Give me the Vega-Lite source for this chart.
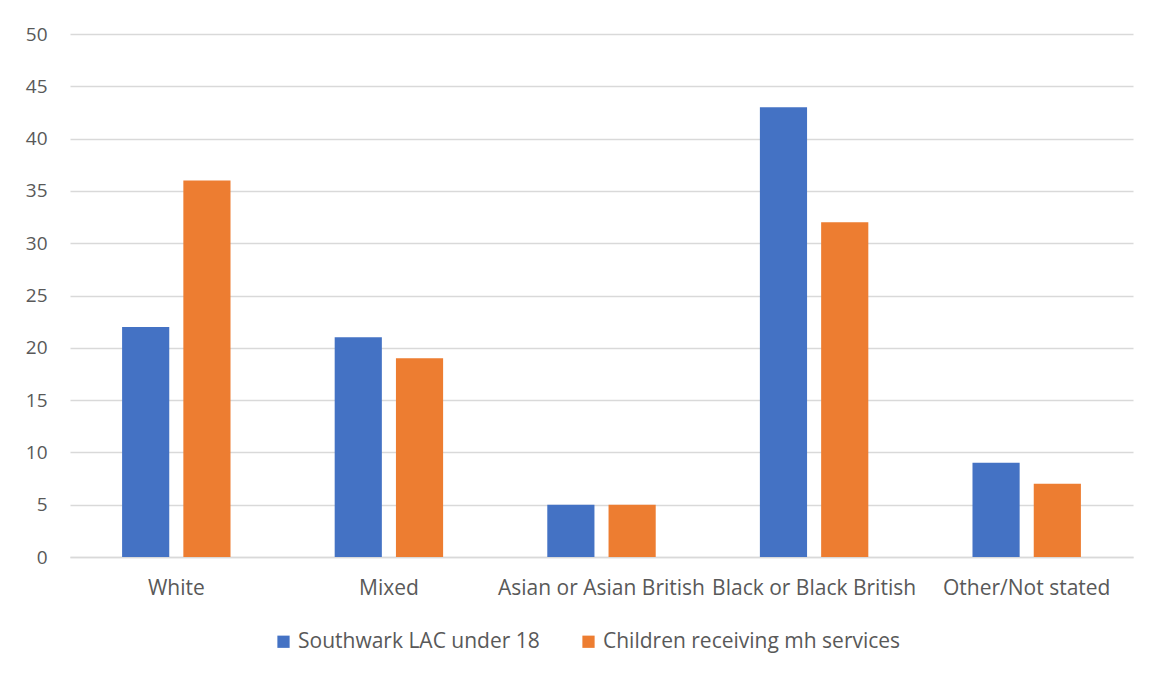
{
  "$schema": "https://vega.github.io/schema/vega-lite/v6.json",
  "autosize": {"type": "none"},
  "width": 1063,
  "height": 523,
  "padding": {"left": 70, "top": 34, "right": 21, "bottom": 118},
  "background": "white",
  "config": {
    "font": "Open Sans",
    "view": {"stroke": null},
    "axis": {"labelFont": "Open Sans", "labelColor": "#595959", "labelFontSize": 21, "ticks": false, "title": null, "labelOverlap": false}
  },
  "data": {"values": [
    {"cat": "White", "series": "Southwark LAC under 18", "v": 22},
    {"cat": "White", "series": "Children receiving mh services", "v": 36},
    {"cat": "Mixed", "series": "Southwark LAC under 18", "v": 21},
    {"cat": "Mixed", "series": "Children receiving mh services", "v": 19},
    {"cat": "Asian or Asian British", "series": "Southwark LAC under 18", "v": 5},
    {"cat": "Asian or Asian British", "series": "Children receiving mh services", "v": 5},
    {"cat": "Black or Black British", "series": "Southwark LAC under 18", "v": 43},
    {"cat": "Black or Black British", "series": "Children receiving mh services", "v": 32},
    {"cat": "Other/Not stated", "series": "Southwark LAC under 18", "v": 9},
    {"cat": "Other/Not stated", "series": "Children receiving mh services", "v": 7}
  ]},
  "mark": {"type": "bar"},
  "encoding": {
    "x": {
      "field": "cat", "type": "nominal", "sort": null,
      "scale": {"paddingInner": 0.49, "paddingOuter": 0.245},
      "axis": {"labelAngle": 0, "labelPadding": 20, "domainColor": "#d9d9d9", "domainWidth": 1.5, "grid": false, "labelLimit": 300}
    },
    "xOffset": {
      "field": "series", "type": "nominal",
      "sort": ["Southwark LAC under 18", "Children receiving mh services"],
      "scale": {"paddingInner": 0.23, "paddingOuter": 0}
    },
    "y": {
      "field": "v", "type": "quantitative",
      "scale": {"domain": [0, 50]},
      "axis": {"values": [0,5,10,15,20,25,30,35,40,45,50], "domain": false, "gridColor": "#d9d9d9", "gridWidth": 1.5, "labelPadding": 23, "labelFontSize": 19}
    },
    "color": {
      "field": "series", "type": "nominal",
      "sort": ["Southwark LAC under 18", "Children receiving mh services"],
      "scale": {"domain": ["Southwark LAC under 18", "Children receiving mh services"], "range": ["#4472C4", "#ED7D31"]},
      "legend": {
        "title": null, "orient": "none", "direction": "horizontal",
        "legendX": 203, "legendY": 597,
        "symbolType": "square", "symbolSize": 150, "symbolStrokeWidth": 0, "symbolOpacity": 1,
        "labelFontSize": 21, "labelColor": "#595959", "labelFont": "Open Sans",
        "columnPadding": 38, "labelOffset": 4, "labelLimit": 400
      }
    }
  }
}
